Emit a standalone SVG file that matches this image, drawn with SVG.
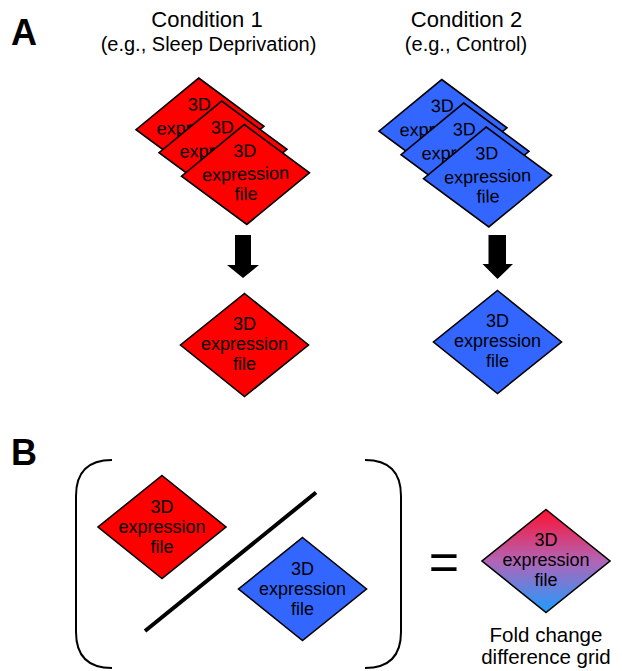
<svg xmlns="http://www.w3.org/2000/svg" width="622" height="671" viewBox="0 0 622 671">
<defs>
<style>
text{font-family:"Liberation Sans",Arial,Helvetica,sans-serif;fill:#000}
.t{font-size:18px;text-anchor:middle}
.h{font-size:22px;text-anchor:middle}
.s{font-size:20px;text-anchor:middle}
.f{font-size:20.5px;text-anchor:middle}
.lbl{font-size:36px;font-weight:bold}
.red{fill:#ff0000;stroke:#000;stroke-width:1.6;stroke-linejoin:miter}
.blue{fill:#3366ff;stroke:#000;stroke-width:1.6;stroke-linejoin:miter}
.grad{fill:url(#fc);stroke:#000;stroke-width:1.6}
.arr{fill:#000}
.brk{fill:none;stroke:#000;stroke-width:2}
</style>
<linearGradient id="fc" x1="0" y1="0" x2="0" y2="1">
<stop offset="0" stop-color="#ff1030"/>
<stop offset="0.5" stop-color="#b264b6"/>
<stop offset="1" stop-color="#1e9cff"/>
</linearGradient>
<polygon id="dm" points="0,-50 64,0 0,50 -64,0"/>
<polygon id="ds" points="0,-51.5 64,0 0,51.5 -64,0"/>
</defs>

<text class="lbl" x="11" y="45">A</text>
<text class="lbl" x="11" y="465">B</text>

<g id="header1">
<text class="h" x="207" y="27">Condition 1</text>
<text class="s" x="208.5" y="50.5">(e.g., Sleep Deprivation)</text>
</g>
<g id="header2">
<text class="h" x="466.5" y="27">Condition 2</text>
<text class="s" x="466" y="50.5">(e.g., Control)</text>
</g>

<g id="red-stack-1" transform="translate(200,128) rotate(-1.5)">
<use href="#dm" class="red"/>
<text class="t" y="-17.5">3D</text><text class="t" y="5.5">expression</text><text class="t" y="25.5">file</text>
</g>
<g id="red-stack-2" transform="translate(223,151) rotate(-1.5)">
<use href="#dm" class="red"/>
<text class="t" y="-17.5">3D</text><text class="t" y="5.5">expression</text><text class="t" y="25.5">file</text>
</g>
<g id="red-stack-3" transform="translate(245.5,174.5) rotate(-1.5)">
<use href="#dm" class="red"/>
<text class="t" y="-17.5">3D</text><text class="t" y="5.5">expression</text><text class="t" y="25.5">file</text>
</g>

<g id="blue-stack-1" transform="translate(443,129.5) rotate(-1.5)">
<use href="#dm" class="blue"/>
<text class="t" y="-17.5">3D</text><text class="t" y="5.5">expression</text><text class="t" y="25.5">file</text>
</g>
<g id="blue-stack-2" transform="translate(465,153) rotate(-1.5)">
<use href="#dm" class="blue"/>
<text class="t" y="-17.5">3D</text><text class="t" y="5.5">expression</text><text class="t" y="25.5">file</text>
</g>
<g id="blue-stack-3" transform="translate(487.5,177) rotate(-1.5)">
<use href="#dm" class="blue"/>
<text class="t" y="-17.5">3D</text><text class="t" y="5.5">expression</text><text class="t" y="25.5">file</text>
</g>

<g id="connectors">
<polygon class="arr" points="235,235 251,235 251,265 259,265 243,278 227,265 235,265"/>
<polygon class="arr" points="488.5,235 506,235 506,264 513,264 497.5,279 482.5,264 488.5,264"/>
</g>

<g id="red-avg" transform="translate(244.5,345)">
<use href="#ds" class="red"/>
<text class="t" y="-15">3D</text><text class="t" y="5">expression</text><text class="t" y="25">file</text>
</g>
<g id="blue-avg" transform="translate(497.5,342)">
<use href="#ds" class="blue"/>
<text class="t" y="-15">3D</text><text class="t" y="5">expression</text><text class="t" y="25">file</text>
</g>

<g id="ratio">
<path class="brk" d="M112,460 Q76,460 76,496 L76,632 Q76,668 112,668"/>
<path class="brk" d="M365,460 Q401,460 401,496 L401,632 Q401,668 365,668"/>
<line x1="145" y1="631" x2="316" y2="492.5" stroke="#000" stroke-width="4"/>
</g>

<g id="red-b" transform="translate(162,527)">
<use href="#ds" class="red"/>
<text class="t" y="-14.5">3D</text><text class="t" y="5.5">expression</text><text class="t" y="25.5">file</text>
</g>
<g id="blue-b" transform="translate(302.5,589)">
<use href="#ds" class="blue"/>
<text class="t" y="-14.5">3D</text><text class="t" y="5.5">expression</text><text class="t" y="25.5">file</text>
</g>

<text x="444" y="580" style="font-size:52px;text-anchor:middle">=</text>

<g id="fold-change" transform="translate(546,561)">
<use href="#ds" class="grad"/>
<text class="t" y="-15.5">3D</text><text class="t" y="5">expression</text><text class="t" y="25">file</text>
</g>
<g id="fold-label">
<text class="f" x="546" y="642">Fold change</text>
<text class="f" x="546" y="664">difference grid</text>
</g>
</svg>
